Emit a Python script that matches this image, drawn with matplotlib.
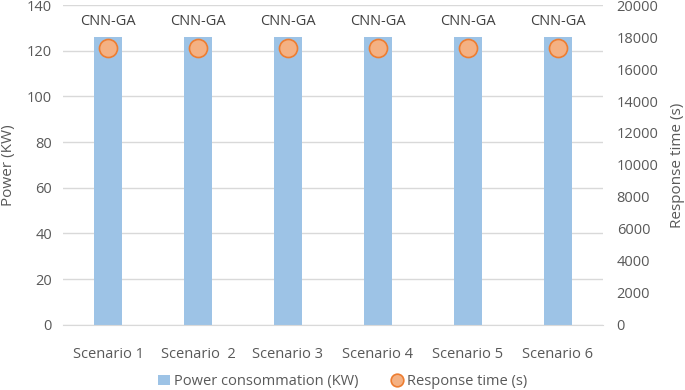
import matplotlib
matplotlib.use("Agg")
from matplotlib import pyplot as plt

scenarios = ["Scenario 1", "Scenario  2", "Scenario 3", "Scenario 4", "Scenario 5", "Scenario 6"]
power = [126, 126, 126, 126, 126, 126]
response = [17300, 17300, 17300, 17300, 17300, 17300]
labels = ["CNN-GA"] * 6

plt.rcParams['font.family'] = ['Open Sans', 'DejaVu Sans']
grey = '#595959'

fig = plt.figure(figsize=(6.85, 3.9), dpi=100)
ax = fig.add_axes([0.092, 0.167, 0.788, 0.82])
ax2 = ax.twinx()

x = list(range(len(scenarios)))
ax.bar(x, power, width=0.31, color='#9DC3E6', label='Power consommation (KW)', zorder=2)
ax2.plot(x, response, 'o', markersize=13, markerfacecolor='#F4B183',
         markeredgecolor='#ED7D31', markeredgewidth=1.2, label='Response time (s)', zorder=3)

for i, t in enumerate(labels):
    ax.text(x[i], 133, t, ha='center', va='center', fontsize=10.5, color='#404040')

ax.set_xlim(-0.5, 5.5)
ax.set_ylim(0, 140)
ax2.set_ylim(0, 20000)
ax.set_yticks(range(0, 141, 20))
ax2.set_yticks(range(0, 20001, 2000))
ax.set_xticks(x)
ax.set_xticklabels(scenarios)
ax.yaxis.grid(True, color='#D9D9D9', linewidth=1, zorder=0)
ax.set_axisbelow(True)

for a in (ax, ax2):
    for s in a.spines.values():
        s.set_visible(False)
    a.tick_params(length=0, labelsize=10.5, labelcolor=grey)
ax.spines['bottom'].set_visible(True)
ax.spines['bottom'].set_color('#D9D9D9')
ax.tick_params(axis='x', pad=16)
ax.tick_params(axis='y', pad=8)
ax2.tick_params(axis='y', pad=10)

ax.set_ylabel('Power (KW)', fontsize=11, color=grey, labelpad=8)
ax2.set_ylabel('Response time (s)', fontsize=11, color=grey, labelpad=8)

h1, l1 = ax.get_legend_handles_labels()
h2, l2 = ax2.get_legend_handles_labels()
fig.legend(h1 + h2, l1 + l2, loc='center', bbox_to_anchor=(0.5, 0.022), ncol=2,
           frameon=False, fontsize=10.5, labelcolor=grey, handlelength=0.8,
           handletextpad=0.3, columnspacing=2.2, markerscale=0.7)

plt.savefig('out.png', dpi=100)
